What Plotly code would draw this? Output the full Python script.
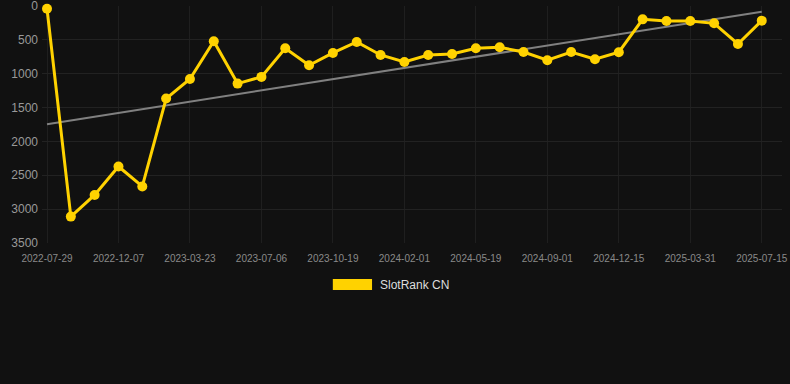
import numpy as np
import plotly.graph_objects as go

dates = [
    "2022-07-29", "2022-09-12", "2022-10-25", "2022-12-07", "2023-01-11", "2023-02-15",
    "2023-03-23", "2023-04-27", "2023-06-01", "2023-07-06", "2023-08-10", "2023-09-14",
    "2023-10-19", "2023-11-23", "2023-12-28", "2024-02-01", "2024-03-08", "2024-04-13",
    "2024-05-19", "2024-06-23", "2024-07-28", "2024-09-01", "2024-10-06", "2024-11-10",
    "2024-12-15", "2025-01-19", "2025-02-24", "2025-03-31", "2025-05-05", "2025-06-09",
    "2025-07-15",
]
ranks = [
    40, 3110, 2790, 2370, 2665, 1367, 1077, 521, 1146, 1047, 624, 875, 693, 531, 723,
    826, 723, 708, 624, 610, 679, 801, 679, 787, 683, 197, 221, 221, 256, 561, 216,
]
tick_labels = dates[::3]
y_ticks = [0, 500, 1000, 1500, 2000, 2500, 3000, 3500]
series_name = "SlotRank CN"

idx = np.arange(len(ranks))
slope, intercept = np.polyfit(idx, ranks, 1)
trend = slope * idx + intercept

fig = go.Figure()
fig.add_trace(go.Scatter(
    x=dates, y=trend, mode="lines",
    line=dict(color="rgb(128,128,128)", width=2),
    hoverinfo="skip", showlegend=False,
))
fig.add_trace(go.Scatter(
    x=dates, y=ranks, mode="lines+markers", name=series_name,
    line=dict(color="#FFD200", width=3),
    marker=dict(color="#FFD200", size=10),
    showlegend=False, cliponaxis=False,
))

fig.update_layout(
    width=790, height=384,
    margin=dict(l=42, r=8, t=6, b=141, autoexpand=False),
    paper_bgcolor="#111111", plot_bgcolor="#111111",
    font=dict(family="Liberation Sans, Arial, sans-serif", color="#999999"),
    xaxis=dict(
        type="category", range=[-0.21, 30.85], automargin=False,
        tickmode="array", tickvals=tick_labels, ticktext=tick_labels,
        tickfont=dict(size=10, color="#8a8a8a"),
        ticklabelstandoff=8, ticklabeloverflow="allow",
        showgrid=True, gridcolor="#1f1f1f", gridwidth=1,
        zeroline=False, showline=False, ticks="",
    ),
    yaxis=dict(
        range=[3500, 0], tickmode="array", automargin=False,
        tickvals=y_ticks,
        tickfont=dict(size=12, color="#999999"),
        ticklabeloverflow="allow", ticklabelstandoff=3,
        showgrid=True, gridcolor="#222222", gridwidth=1,
        zeroline=False, showline=False, ticks="",
    ),
    showlegend=False,
)

fig.add_shape(type="rect", xref="paper", yref="paper",
              x0=0.393, x1=0.446, y0=-0.198, y1=-0.152,
              fillcolor="#FFD200", line=dict(width=0))
fig.add_annotation(xref="paper", yref="paper", x=0.454, y=-0.176,
                   text=series_name, showarrow=False, xanchor="left", yanchor="middle",
                   font=dict(size=12, color="#dddddd"))

fig.write_html("out.html", config={"displayModeBar": False},
               post_script="document.body.style.margin='0';document.body.style.background='#111111';")
